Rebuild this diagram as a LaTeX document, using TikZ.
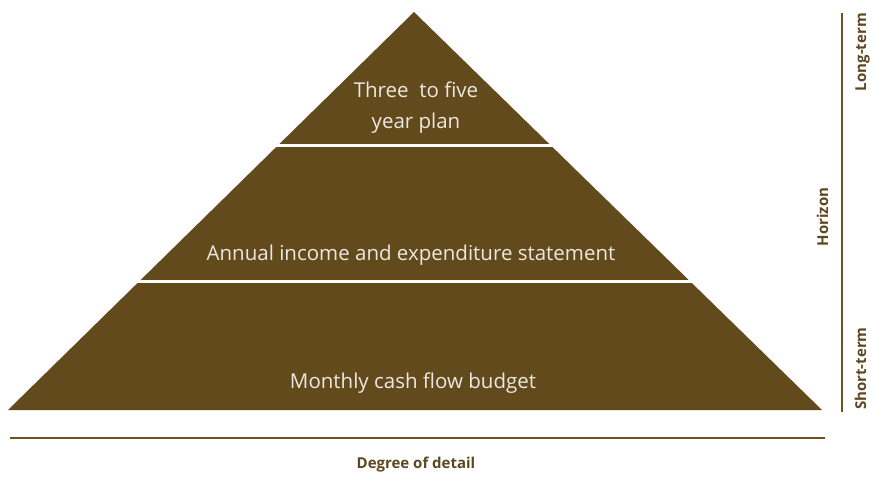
\documentclass[tikz,border=0pt]{standalone}
\usepackage{fontspec}
\setmainfont{Open Sans}
\definecolor{pyr}{HTML}{624A1C}
\definecolor{axis}{HTML}{6E5220}
\definecolor{lbl}{HTML}{5E4720}
\definecolor{ptext}{HTML}{ECE8E0}
\tikzset{
  bandtext/.style={text=ptext, font=\fontsize{20.5}{31}\selectfont, align=center, inner sep=0pt},
  axislabel/.style={text=lbl, font=\bfseries\fontsize{15}{18}\selectfont, inner sep=0pt},
  axisline/.style={draw=axis, line width=1.3pt},
  gapline/.style={draw=white, line width=3pt}
}
\begin{document}
\begin{tikzpicture}[x=1pt,y=1pt]
\useasboundingbox (0,0) rectangle (872,477);
% pyramid
\coordinate (apex) at (414,465);
\coordinate (bl) at (8,67);
\coordinate (br) at (822,67);
\fill[pyr] (apex) -- (br) -- (bl) -- cycle;
\coordinate (g1l) at (270,331.5);
\coordinate (g1r) at (560,331.5);
\coordinate (g2l) at (130,196);
\coordinate (g2r) at (700,196);
\draw[gapline] (g1l) -- (g1r);
\draw[gapline] (g2l) -- (g2r);
% band texts
\node[bandtext] (t1) at (416,369.5) {Three~ to five\\year plan};
\node[bandtext] (t2) at (411,222) {Annual income and expenditure statement};
\node[bandtext] (t3) at (413,94) {Monthly cash flow budget};
% bottom axis
\coordinate (hx1) at (10,39);
\coordinate (hx2) at (825,39);
\draw[axisline] (hx1) -- (hx2);
\node[axislabel] (dd) at (416,12) {Degree of detail};
% right axis
\coordinate (vy1) at (842,464);
\coordinate (vy2) at (842,65);
\draw[axisline] (vy1) -- (vy2);
\node[axislabel, rotate=90, anchor=base east] (lt) at (866,464) {Long-term};
\node[axislabel, rotate=90, anchor=base west] (st) at (866,67) {Short-term};
\node[axislabel, rotate=90, anchor=base] (hz) at (828,260) {Horizon};
\end{tikzpicture}
\end{document}
